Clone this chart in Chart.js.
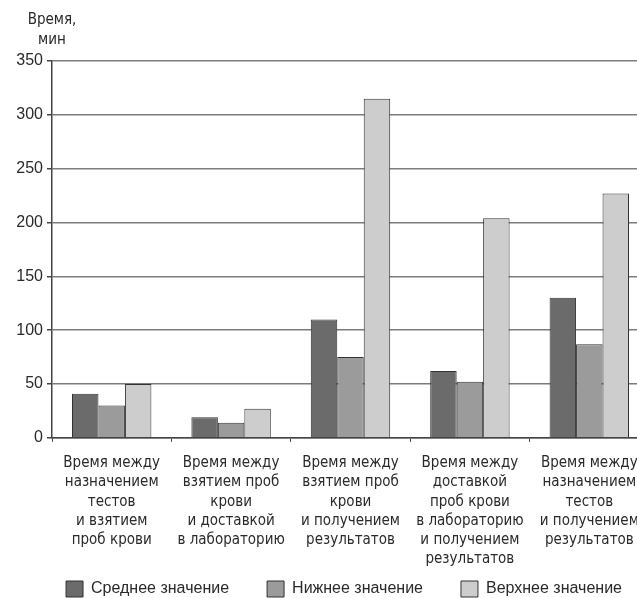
<!DOCTYPE html>
<html><head><meta charset="utf-8">
<script src="https://cdn.jsdelivr.net/npm/chart.js@4/dist/chart.umd.min.js"></script>
<style>
html,body{margin:0;padding:0;background:#fff;overflow:hidden;width:637px;height:598px}
#wrap{position:absolute;left:0;top:0;width:688px;height:645px}
</style>
</head><body><div id="wrap"><canvas id="c" width="688" height="645"></canvas></div>
<script>
const categories = [
  ['Время между', 'назначением', 'тестов', 'и взятием', 'проб крови'],
  ['Время между', 'взятием проб', 'крови', 'и доставкой', 'в лабораторию'],
  ['Время между', 'взятием проб', 'крови', 'и получением', 'результатов'],
  ['Время между', 'доставкой', 'проб крови', 'в лабораторию', 'и получением', 'результатов'],
  ['Время между', 'назначением', 'тестов', 'и получением', 'результатов']
];
const seriesNames = ['Среднее значение', 'Нижнее значение', 'Верхнее значение'];
const meanValues = [41, 19, 110, 62, 130];
const lowerValues = [30, 14, 75, 52, 87];
const upperValues = [50, 27, 315, 204, 227];
const yMin = 0, yMax = 350, yStep = 50;
const axisTitle = ['Время,', 'мин'];

const NARROW = '"Liberation Sans Narrow", "DejaVu Sans Condensed", "Liberation Sans", Arial, sans-serif';
const REG = '"Liberation Sans", Arial, sans-serif';
const TXT = '#2a2a2a';

const titlePlugin = {
  id: 'axisTitle',
  afterDraw(chart) {
    const ctx = chart.ctx;
    const x = chart.scales.y.right;
    ctx.save();
    ctx.font = '15px ' + NARROW;
    ctx.fillStyle = TXT;
    ctx.textAlign = 'center';
    ctx.textBaseline = 'middle';
    axisTitle.forEach((t, i) => ctx.fillText(t, x, 20 + i * 20));
    ctx.restore();
  }
};

// pull the legend row up closer to the category labels
const legendShift = {
  id: 'legendShift',
  afterLayout(chart) {
    const l = chart.legend;
    if (!l) return;
    const d = 38;
    l.top -= d;
    l.bottom -= d;
  }
};

new Chart(document.getElementById('c'), {
  type: 'bar',
  data: {
    labels: categories,
    datasets: [
      { label: seriesNames[0], data: meanValues, backgroundColor: '#6b6b6b', borderColor: '#333', borderWidth: 1 },
      { label: seriesNames[1], data: lowerValues, backgroundColor: '#9b9b9b', borderColor: '#333', borderWidth: 1 },
      { label: seriesNames[2], data: upperValues, backgroundColor: '#cdcdcd', borderColor: '#333', borderWidth: 1 }
    ]
  },
  options: {
    responsive: false,
    animation: false,
    devicePixelRatio: 1,
    datasets: { bar: { barPercentage: 1, categoryPercentage: 0.665 } },
    layout: { padding: { top: 61, left: 0, right: 0, bottom: 0 } },
    plugins: {
      title: { display: false },
      tooltip: { enabled: false },
      legend: {
        position: 'bottom',
        labels: {
          font: { size: 16, family: REG },
          color: TXT,
          boxWidth: 17,
          boxHeight: 16,
          padding: 38
        }
      }
    },
    scales: {
      x: {
        grid: { display: true, drawOnChartArea: false, drawTicks: true, tickLength: 4, color: '#444', offset: true },
        border: { color: '#444', width: 1.5 },
        ticks: { font: { size: 15, family: NARROW, lineHeight: 1.28 }, color: TXT, padding: 12, maxRotation: 0, minRotation: 0, autoSkip: false }
      },
      y: {
        min: yMin, max: yMax,
        ticks: { stepSize: yStep, font: { size: 16, family: REG }, color: TXT, padding: 4 },
        grid: { color: '#7c7c7c', lineWidth: 1.5, tickLength: 5, tickColor: '#444' },
        border: { color: '#444', width: 1.5 },
        afterFit: (scale) => { scale.width = 52; }
      },
      yRight: {
        position: 'right',
        display: true,
        ticks: { display: false },
        grid: { display: false },
        border: { display: false },
        afterFit: (scale) => { scale.width = 39; }
      }
    }
  },
  plugins: [titlePlugin, legendShift]
});
</script>
</body></html>
